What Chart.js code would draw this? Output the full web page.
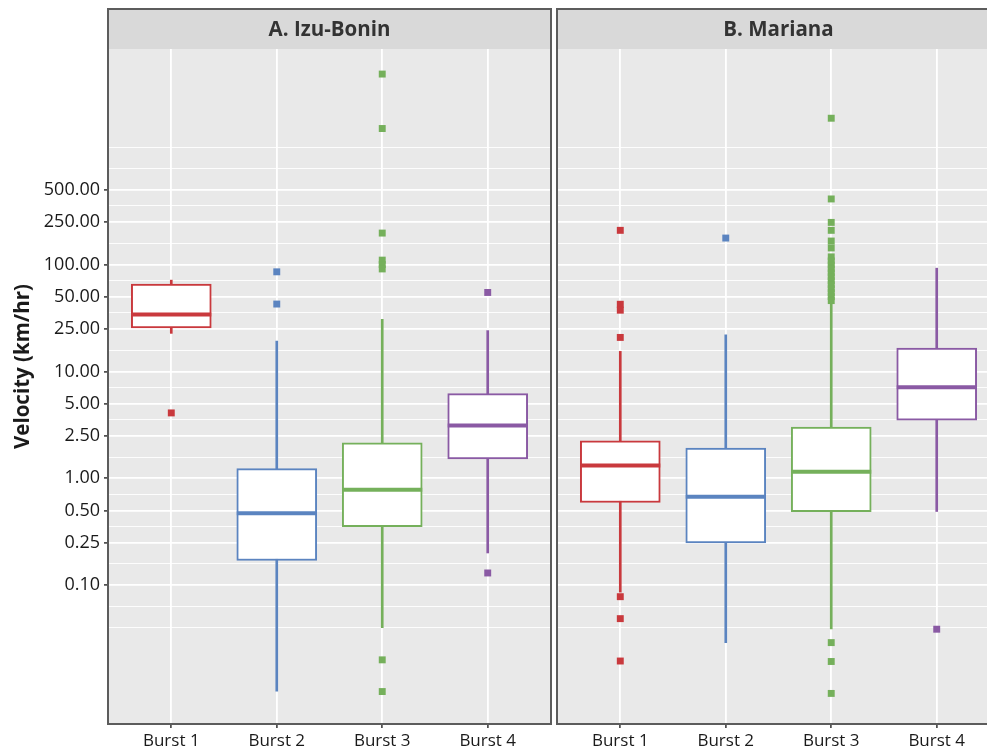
<!DOCTYPE html>
<html><head><meta charset="utf-8">
<script src="https://cdn.jsdelivr.net/npm/chart.js@4.4.0/dist/chart.umd.min.js"></script>
<style>
html,body{margin:0;padding:0;background:#fff;overflow:hidden;width:987px;height:753px;}
canvas{position:absolute;top:0;}
#c1{left:0;}
#c2{left:552px;}
</style></head><body>
<canvas id="c1" width="554" height="753"></canvas>
<canvas id="c2" width="470" height="753"></canvas>
<script>
// ---- data ----
const categories = ['Burst 1', 'Burst 2', 'Burst 3', 'Burst 4'];
const panelTitles = ['A. Izu-Bonin', 'B. Mariana'];
const yTickLabels = [0.1, 0.25, 0.5, 1, 2.5, 5, 10, 25, 50, 100, 250, 500];
const yMinorGrid = [0.04, 0.0632, 0.158, 0.354, 0.707, 1.58, 3.54, 7.07, 15.8, 35.4, 70.7, 158, 354, 791, 1250];
const yMin = 0.00502, yMax = 10400;

// A. Izu-Bonin
const izuLow    = [22.7, 0.0102, 0.040, 0.200];
const izuQ1     = [25.5, 0.170, 0.352, 1.52];
const izuMedian = [34.0, 0.472, 0.779, 3.12];
const izuQ3     = [65.6, 1.23, 2.15, 6.19];
const izuHigh   = [71.5, 19.2, 30.7, 24.1];
const izuOut1 = [4.09];
const izuOut2 = [85.5, 42.7];
const izuOut3 = [6060, 1875, 197, 110, 100, 91, 0.020, 0.0101];
const izuOut4 = [54.8, 0.130];

// B. Mariana
const marLow    = [0.086, 0.029, 0.039, 0.489];
const marQ1     = [0.593, 0.248, 0.486, 3.50];
const marMedian = [1.32, 0.670, 1.15, 7.10];
const marQ3     = [2.24, 1.92, 3.01, 16.5];
const marHigh   = [15.4, 22.0, 44.0, 92.5];
const marOut1 = [209, 42.5, 37.4, 20.8, 0.078, 0.0486, 0.0195];
const marOut2 = [177];
const marOut3 = [2340, 411, 248, 209, 166, 143, 118, 108, 99.3, 91.2, 83.7, 76.9, 70.6, 64.8, 59.4, 54.6, 50.1, 46.0, 0.029, 0.0193, 0.0097];
const marOut4 = [0.0387];

// ---- style ----
const burstColors = ['#c9393d', '#5b84c0', '#75b05b', '#8a5aa4'];
const FONT = "'Open Sans', 'Noto Sans', sans-serif";
const PANEL_BG = '#e9e9e9', STRIP_BG = '#d9d9d9', BORDER = '#5c5c5c';
const STRIP_TOP = 9;

function isLabeled(v) { return yTickLabels.some(m => Math.abs(m - v) / m < 1e-6); }

const panelPlugin = {
  id: 'panelDecor',
  beforeDraw(chart) {
    const a = chart.chartArea, ctx = chart.ctx;
    ctx.save();
    ctx.fillStyle = PANEL_BG;
    ctx.fillRect(a.left, a.top, a.right - a.left, a.bottom - a.top);
    ctx.fillStyle = STRIP_BG;
    ctx.fillRect(a.left, STRIP_TOP, a.right - a.left, a.top - STRIP_TOP);
    ctx.restore();
  },
  afterDraw(chart) {
    const a = chart.chartArea, ctx = chart.ctx, o = chart.options.plugins.panelDecor;
    ctx.save();
    ctx.strokeStyle = BORDER;
    ctx.lineWidth = 2;
    ctx.strokeRect(a.left, STRIP_TOP, a.right - a.left, a.bottom - STRIP_TOP);
    ctx.fillStyle = '#333333';
    ctx.font = "bold 20.5px " + FONT;
    ctx.textAlign = 'center';
    ctx.textBaseline = 'middle';
    ctx.fillText(o.title, (a.left + a.right) / 2, (STRIP_TOP + a.top) / 2 + 1);
    if (o.yTitle) {
      ctx.translate(23, (STRIP_TOP + a.bottom) / 2);
      ctx.rotate(-Math.PI / 2);
      ctx.fillStyle = '#1a1a1a';
      ctx.font = "bold 20.5px " + FONT;
      ctx.fillText(o.yTitle, 0, 0);
    }
    ctx.restore();
  }
};

function makeChart(canvasId, p) {
  const datasets = [];
  datasets.push({
    type: 'bar', order: 5, grouped: false,
    data: categories.map((c, i) => ({ x: i + 1, y: [p.low[i], p.high[i]] })),
    backgroundColor: burstColors, borderWidth: 0, barThickness: 2
  });
  datasets.push({
    type: 'bar', order: 4, grouped: false,
    data: categories.map((c, i) => ({ x: i + 1, y: [p.q1[i], p.q3[i]] })),
    backgroundColor: '#ffffff', borderColor: burstColors, borderWidth: 2,
    borderSkipped: false, barThickness: 80
  });
  datasets.push({
    type: 'scatter', order: 3,
    data: categories.map((c, i) => ({ x: i + 1, y: p.median[i] })),
    pointStyle: 'line', radius: 40, borderWidth: 4, borderColor: burstColors, hoverRadius: 40
  });
  p.outliers.forEach((arr, i) => {
    datasets.push({
      type: 'scatter', order: 1,
      data: arr.map(v => ({ x: i + 1, y: v })),
      pointStyle: 'rect', radius: 4.9, borderWidth: 0,
      backgroundColor: burstColors[i], borderColor: burstColors[i]
    });
  });

  const isLeft = p.showY;
  return new Chart(document.getElementById(canvasId), {
    type: 'bar',
    data: { datasets },
    plugins: [panelPlugin],
    options: {
      responsive: false, animation: false,
      layout: { padding: p.padding, autoPadding: false },
      events: [],
      plugins: {
        legend: { display: false }, tooltip: { enabled: false }, title: { display: false },
        panelDecor: { title: p.title, yTitle: p.yTitle }
      },
      scales: {
        x: {
          type: 'linear', min: 0.4, max: 4.6, bounds: 'data', offset: false,
          afterBuildTicks: s => { s.ticks = categories.map((c, i) => ({ value: i + 1 })); },
          afterFit: s => { s.height = 29; },
          ticks: {
            callback: v => categories[Math.round(v) - 1] || '',
            autoSkip: false, maxRotation: 0, padding: 3,
            color: '#1a1a1a', font: { family: FONT, size: 17 }
          },
          grid: { offset: false, color: '#ffffff', lineWidth: 1.8, tickColor: '#333333', tickLength: 4, tickWidth: 1.5, drawTicks: true },
          border: { display: false }
        },
        y: {
          type: 'logarithmic', min: yMin, max: yMax, bounds: 'data',
          afterBuildTicks: s => {
            s.ticks = yTickLabels.concat(yMinorGrid).sort((a, b) => a - b).map(v => ({ value: v }));
          },
          afterFit: s => { s.width = p.yWidth; },
          ticks: {
            display: isLeft, autoSkip: false, padding: 4,
            callback: v => isLabeled(v) ? Number(v).toFixed(2) : '',
            color: '#1a1a1a', font: { family: FONT, size: 18 }
          },
          grid: {
            offset: false,
            color: '#ffffff',
            lineWidth: c => (c.tick && isLabeled(c.tick.value)) ? 1.8 : 0.9,
            tickColor: c => (c.tick && isLabeled(c.tick.value)) ? '#333333' : 'rgba(0,0,0,0)',
            tickWidth: 1.5, tickLength: 4, drawTicks: isLeft
          },
          border: { display: false }
        }
      }
    }
  });
}

makeChart('c1', {
  title: panelTitles[0], yTitle: 'Velocity (km/hr)', showY: true, yWidth: 108,
  padding: { left: 0, top: 49, right: 3, bottom: 0 },
  low: izuLow, q1: izuQ1, median: izuMedian, q3: izuQ3, high: izuHigh,
  outliers: [izuOut1, izuOut2, izuOut3, izuOut4]
});
makeChart('c2', {
  title: panelTitles[1], yTitle: null, showY: false, yWidth: 0,
  padding: { left: 5, top: 49, right: 22, bottom: 0 },
  low: marLow, q1: marQ1, median: marMedian, q3: marQ3, high: marHigh,
  outliers: [marOut1, marOut2, marOut3, marOut4]
});
</script>
</body></html>
